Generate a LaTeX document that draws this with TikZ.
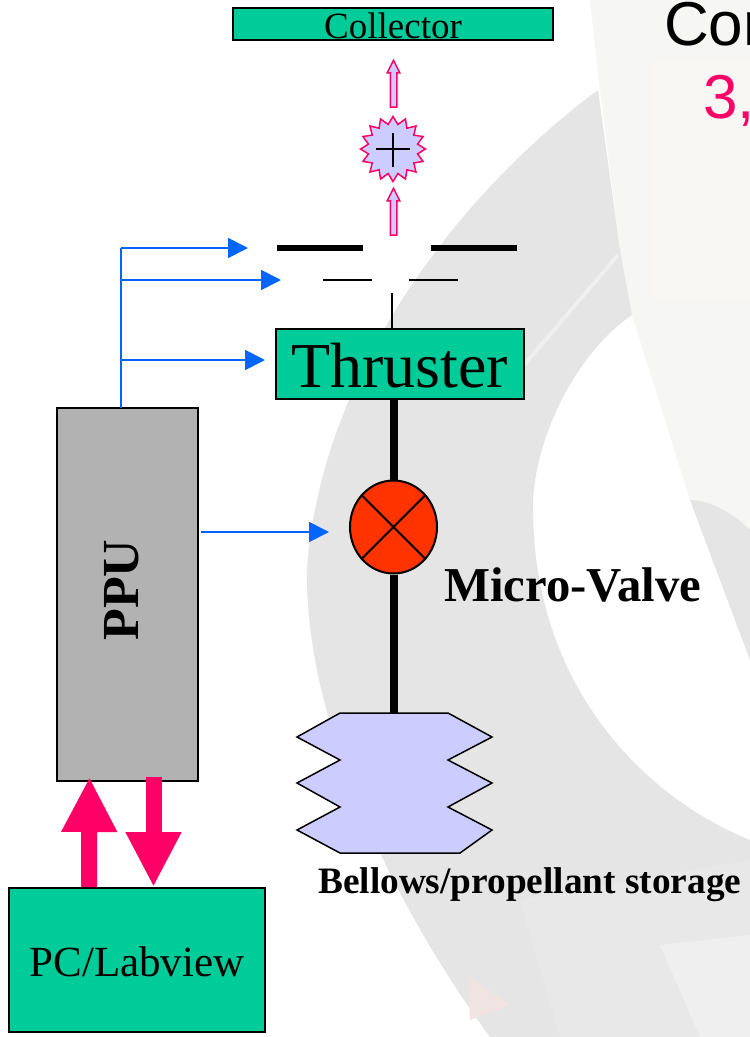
\documentclass[tikz,border=0pt]{standalone}
\usepackage{fontspec}
\setmainfont{Liberation Serif}
\newfontfamily\arialf{Liberation Sans}
\usetikzlibrary{arrows.meta,shapes.geometric,shapes.arrows,calc}
\definecolor{boxgreen}{HTML}{00CC99}
\definecolor{hotpink}{HTML}{FF0066}
\definecolor{sigblue}{HTML}{0066FF}
\definecolor{lilac}{HTML}{CCCCFF}
\definecolor{ppugrey}{HTML}{B2B2B2}
\definecolor{valvered}{HTML}{FF3300}
\definecolor{wm}{HTML}{E5E5E5}
\definecolor{wmlight}{HTML}{F6F6F5}
\definecolor{wmcream}{HTML}{F9F7F3}
\definecolor{wmlow}{HTML}{E8E8E8}
\definecolor{wmpale}{HTML}{EFEFEF}
\definecolor{wmrose}{HTML}{EFE4E2}
\tikzset{
 greenbox/.style={draw=black,fill=boxgreen,line width=2pt,inner sep=0pt,text depth=0pt},
 blueline/.style={draw=sigblue,line width=1.7pt},
 bluearrow/.style={blueline,-{Triangle[length=20pt 0 1,width=20pt 0 1]}},
 feed/.style={draw=black,line width=8pt},
 pinkarrow/.style={draw=hotpink,line width=16pt,-{Triangle[length=55pt 0 1,width=52pt 0 1]}},
 hollow/.style={single arrow,draw=hotpink,fill=lilac,line width=1.5pt,minimum width=12pt,minimum height=47pt,single arrow head extend=3pt,single arrow tip angle=53,inner sep=2.5pt,rotate=90},
}
\begin{document}
\begin{tikzpicture}[x=1pt,y=-1pt]
\useasboundingbox (0,0) rectangle (750,1037);
\fill[white] (0,0) rectangle (750,1037);
% watermark
\fill[wmlight] (590,0) -- (600,90) -- (620,250) -- (632,315) -- (690,500) -- (750,660) -- (750,0) -- cycle;
\fill[wmcream] (650,60) rectangle (750,300);
\fill[wm] (598,90) .. controls (450,200) and (320,380) .. (307,570) .. controls (305,720) and (390,900) .. (490,1037) -- (750,1037) -- (750,840) .. controls (650,800) and (530,690) .. (533,500) .. controls (537,430) and (580,350) .. (632,315) -- (620,250) -- cycle;
\fill[wm] (690,500) .. controls (715,500) and (740,520) .. (750,530) -- (750,660) -- cycle;
\fill[wmlow] (520,900) -- (750,860) -- (750,1037) -- (560,1037) -- cycle;
\fill[wmpale] (660,945) -- (750,935) -- (750,1037) -- (700,1037) -- cycle;
\fill[wmrose] (468,975) -- (510,1005) -- (470,1020) -- cycle;
\draw[wmpale,line width=4pt] (618,255) -- (524,365);
% collector
\node[greenbox,minimum width=320pt,minimum height=32pt,text height=28pt,font=\fontsize{37}{37}\selectfont] (collector) at (393,24) {Collector};
% ion
\node[star,star points=16,star point ratio=1.3,draw=hotpink,fill=lilac,line width=1.5pt,minimum size=65pt,inner sep=0pt] (ion) at (393,149) {};
\draw[line width=1.5pt] (376,149) -- (410,149) (393,133) -- (393,167);
\node[hollow] (ionup) at (393.5,87) {};
\node[hollow] (ionin) at (393.5,215) {};
% grids
\coordinate (g1a) at (277,248); \coordinate (g1b) at (363,248);
\coordinate (g1c) at (431,248); \coordinate (g1d) at (517,248);
\coordinate (g2a) at (323,280); \coordinate (g2b) at (372,280);
\coordinate (g2c) at (409,280); \coordinate (g2d) at (458,280);
\draw[line width=6pt] (g1a) -- (g1b) (g1c) -- (g1d);
\draw[line width=1.5pt] (g2a) -- (g2b) (g2c) -- (g2d);
% thruster
\node[greenbox,minimum width=248pt,minimum height=70pt,text height=46pt,font=\fontsize{64}{64}\selectfont] (thruster) at (399.5,364) {Thruster};
\coordinate (needle) at (392,293);
\draw[line width=1.2pt] (needle) -- (needle |- thruster.north);
% valve
\node[ellipse,draw=black,fill=valvered,line width=2pt,minimum width=87pt,minimum height=93pt,inner sep=0pt] (valve) at (393.5,527) {};
\draw[line width=2pt] (valve.45) -- (valve.225) (valve.135) -- (valve.315);
\node[font=\fontsize{48.7}{48.7}\selectfont\bfseries,anchor=west,inner sep=0pt] (mv) at (444,585) {Micro-Valve};
% bellows
\coordinate (bellowstop) at (393.5,713);
\draw[fill=lilac,line width=1.5pt] (340,713) -- (448,713) -- (492,737) -- (448,760) -- (492,783) -- (448,807) -- (492,830) -- (460,853) -- (340,853) -- (297,830) -- (340,807) -- (297,783) -- (340,760) -- (297,737) -- cycle;
\node[font=\fontsize{37.3}{37.3}\selectfont\bfseries,anchor=west,inner sep=0pt] (bl) at (318,885) {Bellows/propellant storage};
\draw[feed] (thruster.south -| valve) -- (valve.north);
\draw[feed] (valve.south) -- (bellowstop);
% PPU
\node[draw=black,fill=ppugrey,line width=2pt,minimum width=141pt,minimum height=373pt,inner sep=0pt] (ppu) at (127.5,594.5) {};
\node[rotate=90,font=\fontsize{52}{52}\selectfont\bfseries,inner sep=0pt] (ppul) at (121.5,590) {PPU};
\coordinate (tap) at (121,408);
\coordinate (t1) at (248,248);
\coordinate (t2) at (281,280);
\coordinate (t3) at (265,360);
\draw[blueline] (tap) -- (tap |- t1);
\draw[bluearrow] (tap |- t1) -- (t1);
\draw[bluearrow] (tap |- t2) -- (t2);
\draw[bluearrow] (tap |- t3) -- (t3);
\coordinate (vs) at (201,532);
\coordinate (vt) at (329,532);
\draw[bluearrow] (vs) -- (vt);
% PC
\node[greenbox,minimum width=256pt,minimum height=144pt,text height=32pt,font=\fontsize{43}{43}\selectfont] (pc) at (137,960) {PC/Labview};
\draw[pinkarrow] ([xshift=-48pt]pc.north) -- ([xshift=-38pt,yshift=5pt]ppu.south);
\draw[pinkarrow] ([xshift=26pt,yshift=5pt]ppu.south) -- ([xshift=16.5pt]pc.north);
% clipped title
\node[font=\arialf\fontsize{62}{62}\selectfont,anchor=west,inner sep=0pt] (title) at (664,24) {Cor};
\node[font=\arialf\fontsize{62}{62}\selectfont,text=hotpink,anchor=west,inner sep=0pt] (num) at (703,101) {3,};
\end{tikzpicture}
\end{document}
